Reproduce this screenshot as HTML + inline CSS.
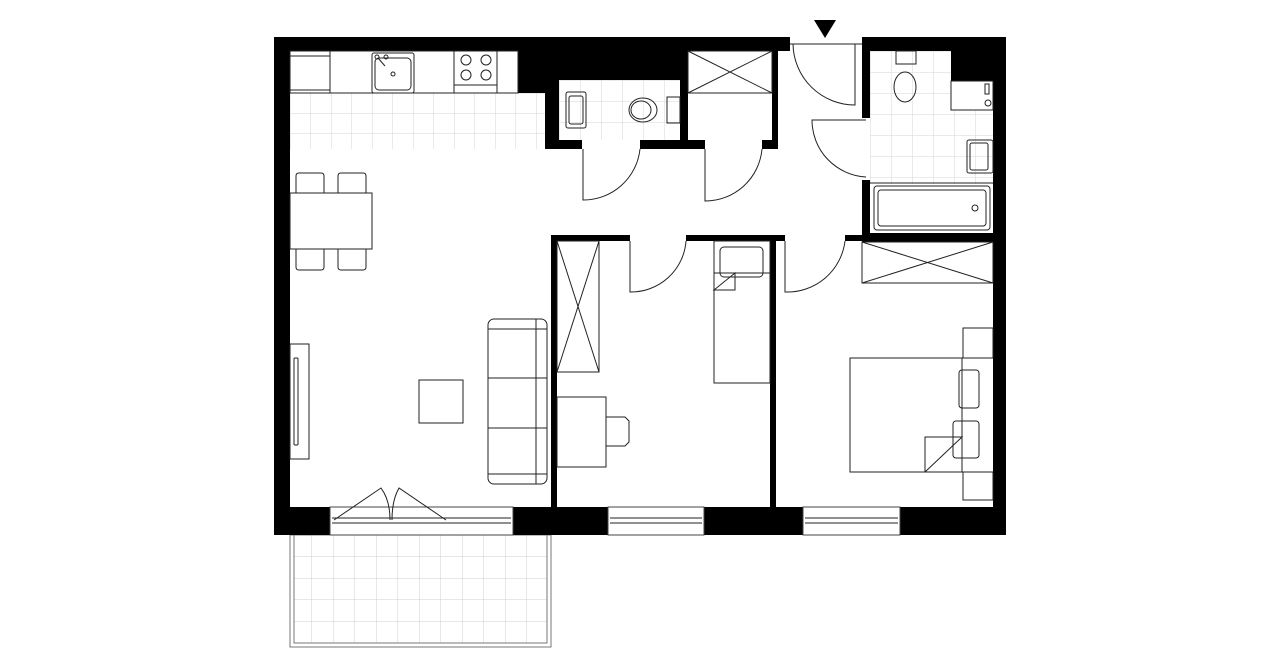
<!DOCTYPE html>
<html><head><meta charset="utf-8"><style>html,body{margin:0;padding:0;background:#fff}svg{display:block}</style></head>
<body>
<svg width="1280" height="667" viewBox="0 0 1280 667" xmlns="http://www.w3.org/2000/svg">
<defs>
<pattern id="tile" x="290" y="93" width="20.5" height="20" patternUnits="userSpaceOnUse">
<path d="M0 0H20.5M0 0V20" stroke="#d6d6d6" stroke-width="1" fill="none"/>
</pattern>
<pattern id="tile2" x="559" y="80" width="21" height="21" patternUnits="userSpaceOnUse">
<path d="M0 0H21M0 0V21" stroke="#d6d6d6" stroke-width="1" fill="none"/>
</pattern>
<pattern id="tile3" x="870" y="51" width="21" height="21" patternUnits="userSpaceOnUse">
<path d="M0 0H21M0 0V21" stroke="#d6d6d6" stroke-width="1" fill="none"/>
</pattern>
<pattern id="tile4" x="290" y="535" width="21.5" height="21.5" patternUnits="userSpaceOnUse">
<path d="M0 0H21.5M0 0V21.5" stroke="#cfcfcf" stroke-width="1" fill="none"/>
</pattern>
</defs>

<!-- tile floors -->
<rect x="290" y="93" width="255" height="56" fill="url(#tile)"/>
<rect x="559" y="80" width="121" height="60" fill="url(#tile2)"/>
<rect x="870" y="51" width="123" height="133" fill="url(#tile3)"/>
<!-- balcony -->
<rect x="290" y="535" width="261" height="112" fill="none" stroke="#777" stroke-width="1"/>
<rect x="294" y="535" width="253" height="108" fill="url(#tile4)" stroke="#777" stroke-width="1"/>

<g fill="#000">
<!-- outer walls -->
<rect x="274" y="37" width="516" height="14"/>
<rect x="274" y="37" width="16" height="498"/>
<rect x="862" y="37" width="144" height="14"/>
<rect x="993" y="37" width="13" height="498"/>
<rect x="274" y="507" width="56" height="28"/>
<rect x="513" y="507" width="95" height="28"/>
<rect x="704" y="507" width="99" height="28"/>
<rect x="900" y="507" width="106" height="28"/>
<!-- top interior -->
<rect x="518" y="51" width="162" height="29"/>
<rect x="518" y="51" width="33" height="42"/>
<rect x="545" y="80" width="14" height="69"/>
<rect x="545" y="140" width="37" height="9"/>
<rect x="640" y="140" width="65" height="9"/>
<rect x="680" y="51" width="8" height="98"/>
<rect x="762" y="140" width="16" height="9"/>
<rect x="772" y="51" width="6" height="98"/>
<!-- right bathroom -->
<rect x="862" y="37" width="8" height="81"/>
<rect x="862" y="180" width="8" height="62"/>
<rect x="862" y="233" width="131" height="9"/>
<rect x="951" y="51" width="42" height="30"/>
<!-- middle walls -->
<rect x="551" y="235" width="6" height="272"/>
<rect x="551" y="235" width="79" height="6"/>
<rect x="686" y="235" width="99" height="6"/>
<rect x="770" y="235" width="6" height="272"/>
<rect x="845" y="235" width="20" height="6"/>
<!-- entrance arrow -->
<polygon points="814,20 836,20 825,38"/>
</g>

<g fill="none" stroke="#222" stroke-width="1">
<!-- kitchen counter -->
<rect x="290" y="51" width="228" height="42" fill="#fff"/>
<line x1="330" y1="51" x2="330" y2="93"/>
<line x1="290" y1="56" x2="330" y2="56"/>
<line x1="290" y1="90" x2="330" y2="90"/>
<rect x="372" y="53" width="42" height="40" rx="2"/>
<rect x="375" y="58" width="36" height="32" rx="4"/>
<circle cx="393" cy="74" r="2"/>
<circle cx="377" cy="57" r="2"/><circle cx="386" cy="57" r="2"/>
<line x1="378" y1="58" x2="385" y2="66"/>
<rect x="454" y="51" width="43" height="42"/>
<line x1="454" y1="85" x2="497" y2="85"/>
<circle cx="466" cy="60" r="5"/><circle cx="486" cy="60" r="5"/>
<circle cx="466" cy="75" r="5"/><circle cx="486" cy="75" r="5"/>
<!-- WC -->
<rect x="566" y="92" width="20" height="36" rx="2"/>
<rect x="569" y="96" width="14" height="28" rx="2"/>
<ellipse cx="643" cy="110" rx="14" ry="12"/>
<ellipse cx="641" cy="110" rx="10" ry="9"/>
<rect x="667" y="97" width="13" height="26"/>
<!-- closet top -->
<rect x="688" y="51" width="84" height="42"/>
<line x1="688" y1="51" x2="772" y2="93"/><line x1="772" y1="51" x2="688" y2="93"/>
<!-- doors -->
<path d="M583 149V200A57 57 0 0 0 640 149"/>
<path d="M705 149V201A57 57 0 0 0 762 149"/>
<path d="M855 44V105A62 62 0 0 1 793 44"/>
<line x1="790" y1="44" x2="862" y2="44"/>
<path d="M866 120H812A57 57 0 0 0 866 177"/>
<path d="M630 241V292A55 55 0 0 0 686 241"/>
<path d="M785 241V292A58 58 0 0 0 845 241"/>
<!-- right bathroom -->
<rect x="874" y="186" width="116" height="44" rx="3"/>
<rect x="878" y="190" width="108" height="36" rx="3"/>
<circle cx="975" cy="208" r="3"/>
<rect x="951" y="81" width="42" height="29" fill="#fff"/>
<rect x="985" y="84" width="4" height="10"/>
<circle cx="988" cy="103" r="3"/>
<ellipse cx="905" cy="87" rx="11" ry="15"/>
<rect x="896" y="51" width="20" height="13"/>
<rect x="967" y="140" width="26" height="33" rx="2"/>
<rect x="970" y="143" width="18" height="27" rx="2"/>
<line x1="870" y1="183" x2="993" y2="183"/>
<!-- wardrobe right -->
<rect x="862" y="242" width="131" height="41"/>
<line x1="862" y1="242" x2="993" y2="283"/><line x1="993" y1="242" x2="862" y2="283"/>
<!-- wardrobe middle -->
<rect x="557" y="241" width="42" height="131"/>
<line x1="557" y1="241" x2="599" y2="372"/><line x1="599" y1="241" x2="557" y2="372"/>
<!-- desk -->
<rect x="557" y="397" width="49" height="70"/>
<path d="M606 417H625L629 421V442L625 446H606"/>
<!-- single bed -->
<rect x="714" y="241" width="56" height="142"/>
<rect x="720" y="247" width="43" height="30" rx="4"/>
<line x1="714" y1="273" x2="770" y2="273"/>
<path d="M714 290L735 273V290Z"/>
<!-- double bed -->
<rect x="850" y="358" width="112" height="114"/>
<rect x="963" y="328" width="30" height="30"/>
<rect x="963" y="472" width="30" height="28"/>
<line x1="962" y1="358" x2="993" y2="358"/>
<rect x="959" y="370" width="20" height="38" rx="3"/>
<rect x="953" y="421" width="26" height="37" rx="3"/>
<path d="M925 472V437H962L925 472"/>
<!-- living -->
<rect x="290" y="193" width="82" height="56"/>
<path d="M296 193V176Q296 173 299 173H321Q324 173 324 176V193"/>
<path d="M338 193V176Q338 173 341 173H363Q366 173 366 176V193"/>
<path d="M296 249V267Q296 270 299 270H321Q324 270 324 267V249"/>
<path d="M338 249V267Q338 270 341 270H363Q366 270 366 267V249"/>
<rect x="290" y="344" width="19" height="115"/>
<rect x="294" y="358" width="4" height="87" rx="1"/>
<rect x="419" y="380" width="44" height="43"/>
<rect x="488" y="319" width="59" height="165" rx="6"/>
<line x1="536" y1="319" x2="536" y2="484"/>
<line x1="488" y1="329" x2="547" y2="329"/>
<line x1="488" y1="378" x2="547" y2="378"/>
<line x1="488" y1="428" x2="547" y2="428"/>
<line x1="488" y1="474" x2="547" y2="474"/>
<!-- windows -->
<rect x="330" y="507" width="183" height="28" fill="#fff" stroke="#444"/>
<line x1="332" y1="518" x2="511" y2="518"/><line x1="332" y1="523" x2="511" y2="523"/>
<rect x="608" y="507" width="96" height="28" fill="#fff" stroke="#444"/>
<line x1="610" y1="518" x2="702" y2="518"/><line x1="610" y1="523" x2="702" y2="523"/>
<rect x="803" y="507" width="97" height="28" fill="#fff" stroke="#444"/>
<line x1="805" y1="518" x2="898" y2="518"/><line x1="805" y1="523" x2="898" y2="523"/>
<!-- balcony doors -->
<path d="M334 520L381 488Q390 500 390 520"/>
<path d="M446 520L399 488Q392 500 392 520"/>
</g>
</svg>
</body></html>
